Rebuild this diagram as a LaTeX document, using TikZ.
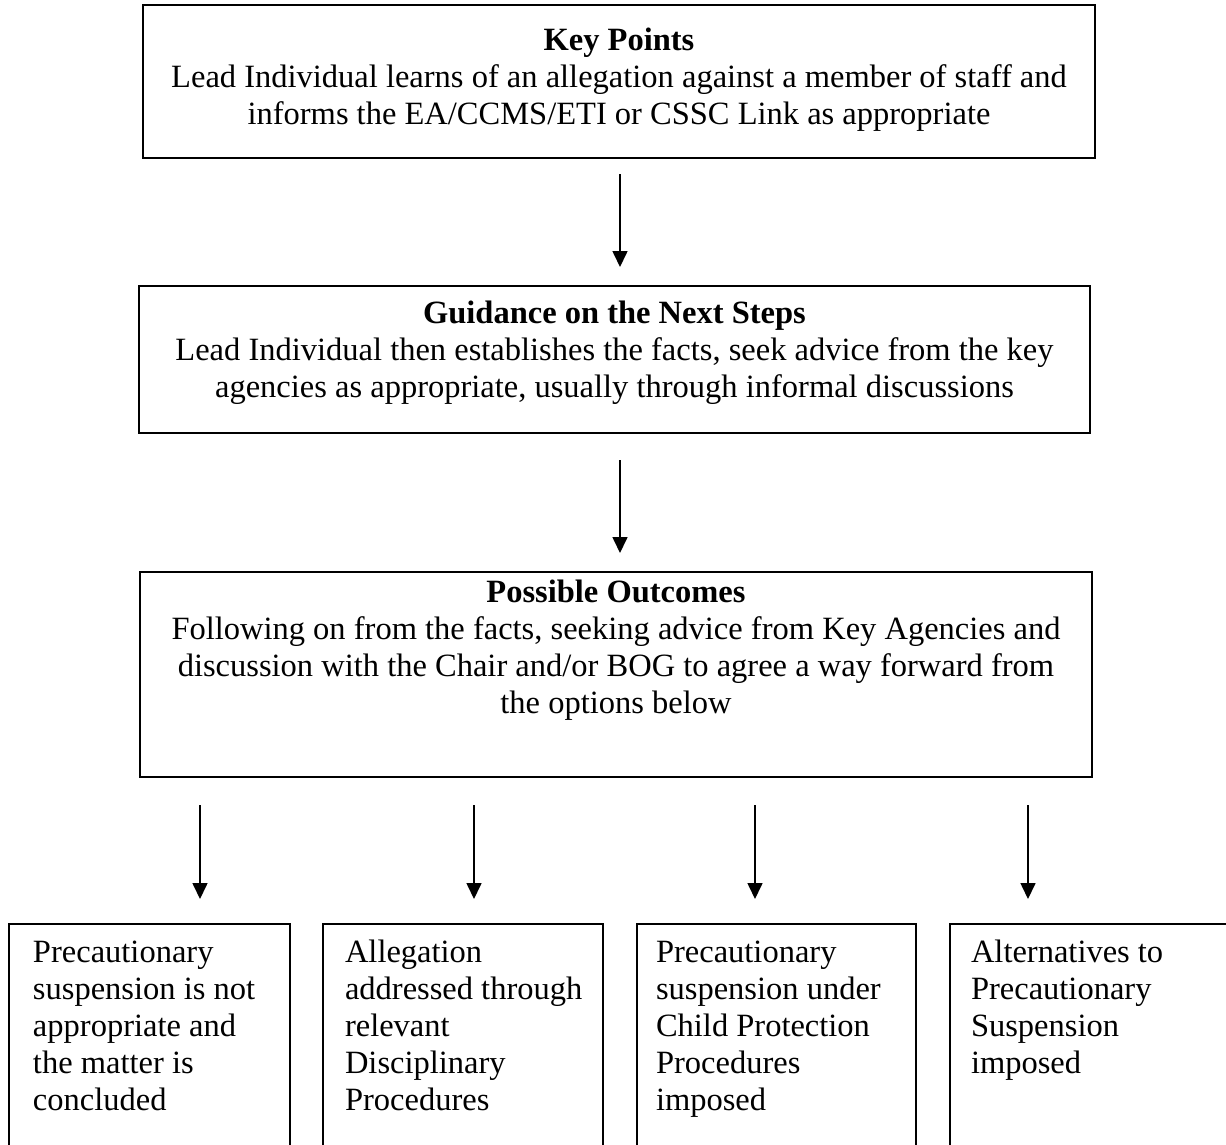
\documentclass[tikz,border=0pt]{standalone}
\usepackage{fontspec}
\setmainfont{Liberation Serif}
\usetikzlibrary{arrows.meta}
\tikzset{
  box/.style={draw, line width=1.6pt, inner sep=0pt, outer sep=0pt},
  arr/.style={line width=1.6pt, -{Triangle[width=15pt,length=16pt]}},
}
\newcommand{\ctext}[4]{\parbox[t][#2][t]{#1}{\centering\fontsize{32.5}{37}\selectfont\rule{0pt}{#3}#4}}
\newcommand{\ltext}[5]{\parbox[t][#2][t]{#1}{\raggedright\leftskip=#4\relax\fontsize{32.5}{37}\selectfont\rule{0pt}{#3}#5}}
\begin{document}
\begin{tikzpicture}[x=1pt,y=-1pt]
\useasboundingbox (0,0) rectangle (1226,1144);
\node[box] (box1) at (619,81.5) {\ctext{952pt}{153pt}{45pt}{\textbf{Key Points}\\Lead Individual learns of an allegation against a member of staff and\\informs the EA/CCMS/ETI or CSSC Link as appropriate}};
\node[box] (box2) at (614.5,359.5) {\ctext{951pt}{147pt}{37pt}{\textbf{Guidance on the Next Steps}\\Lead Individual then establishes the facts, seek advice from the key\\agencies as appropriate, usually through informal discussions}};
\node[box] (box3) at (616,674.5) {\ctext{952pt}{205pt}{30pt}{\textbf{Possible Outcomes}\\Following on from the facts, seeking advice from Key Agencies and\\discussion with the Chair and/or BOG to agree a way forward from\\the options below}};
\node[box] (oa) at (149.5,1042) {\ltext{281pt}{236pt}{38pt}{24pt}{Precautionary\\suspension is not\\appropriate and\\the matter is\\concluded}};
\node[box] (ob) at (463,1042) {\ltext{280pt}{236pt}{38pt}{22pt}{Allegation\\addressed through\\relevant\\Disciplinary\\Procedures}};
\node[box] (oc) at (776.5,1042) {\ltext{279pt}{236pt}{38pt}{19pt}{Precautionary\\suspension under\\Child Protection\\Procedures\\imposed}};
\node[box] (od) at (1095,1042) {\ltext{290pt}{236pt}{38pt}{21pt}{Alternatives to\\Precautionary\\Suspension\\imposed}};
\draw[arr] ([xshift=1pt,yshift=-16pt]box1.south) -- ([xshift=5.5pt,yshift=19pt]box2.north);
\draw[arr] ([xshift=5.5pt,yshift=-27pt]box2.south) -- ([xshift=4pt,yshift=19pt]box3.north);
\draw[arr] ([xshift=-416pt,yshift=-28pt]box3.south) -- ([xshift=50.5pt,yshift=25pt]oa.north);
\draw[arr] ([xshift=-142pt,yshift=-28pt]box3.south) -- ([xshift=11pt,yshift=25pt]ob.north);
\draw[arr] ([xshift=139pt,yshift=-28pt]box3.south) -- ([xshift=-21.5pt,yshift=25pt]oc.north);
\draw[arr] ([xshift=412pt,yshift=-28pt]box3.south) -- ([xshift=-67pt,yshift=25pt]od.north);
\end{tikzpicture}
\end{document}
